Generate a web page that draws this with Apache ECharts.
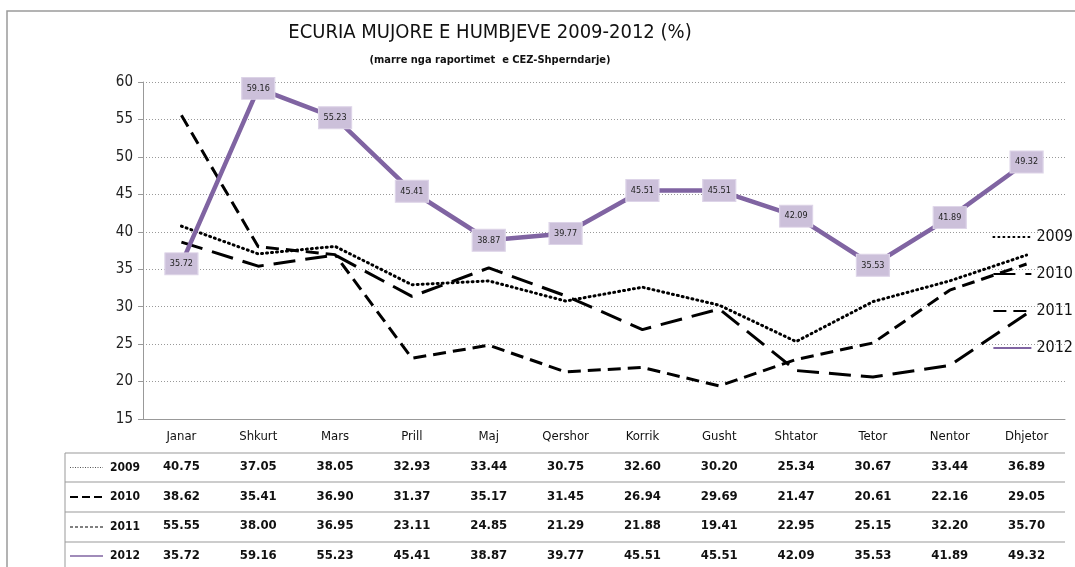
<!DOCTYPE html>
<html>
<head>
<meta charset="utf-8">
<script src="https://cdn.jsdelivr.net/npm/echarts@6/dist/echarts.min.js"></script>
<style>
  html, body { margin: 0; padding: 0; background: #fff; }
  #chart { width: 1075px; height: 567px; }
</style>
</head>
<body>
<div id="chart"></div>
<script>
// te dhenat
var months = ['Janar', 'Shkurt', 'Mars', 'Prill', 'Maj', 'Qershor', 'Korrik', 'Gusht', 'Shtator', 'Tetor', 'Nentor', 'Dhjetor'];
var years = ['2009', '2010', '2011', '2012'];
var v2009 = [40.75, 37.05, 38.05, 32.93, 33.44, 30.75, 32.60, 30.20, 25.34, 30.67, 33.44, 36.89];
var v2010 = [38.62, 35.41, 36.90, 31.37, 35.17, 31.45, 26.94, 29.69, 21.47, 20.61, 22.16, 29.05];
var v2011 = [55.55, 38.00, 36.95, 23.11, 24.85, 21.29, 21.88, 19.41, 22.95, 25.15, 32.20, 35.70];
var v2012 = [35.72, 59.16, 55.23, 45.41, 38.87, 39.77, 45.51, 45.51, 42.09, 35.53, 41.89, 49.32];
var yTicks = { min: 15, max: 60, step: 5 };

var rows = [v2009, v2010, v2011, v2012];
var FONT = '"Liberation Sans Narrow", "DejaVu Sans Condensed", "Arial Narrow", sans-serif';

var chart = echarts.init(document.getElementById('chart'));

// pozicioni i grafikut
var G = { left: 143, right: 10, top: 82, bottom: 148 };
var W = 1075, H = 567;
var rowTops = [453, 482, 512, 542];  // rreshtat e tabeles
var headL = 65;

// tabela poshte boshtit x (tekst ne label)
function tableLabel(value, idx) {
    var s = '{c|' + value + '}';
    for (var r = 0; r < rows.length; r++) {
        s += '\n{v|' + rows[r][idx].toFixed(2) + '}';
    }
    return s;
}

var graphics = [];
// korniza
graphics.push({
    type: 'rect', shape: { x: 7, y: 11, width: W + 20, height: H + 20 },
    style: { fill: 'none', stroke: '#9a9a9a', lineWidth: 1.5 }, silent: true
});
// vijat horizontale te tabeles
rowTops.forEach(function(y) {
    graphics.push({
        type: 'line', shape: { x1: headL, y1: y, x2: W - G.right, y2: y },
        style: { stroke: '#999', lineWidth: 1 }, silent: true
    });
});
graphics.push({
    type: 'line', shape: { x1: headL, y1: rowTops[0], x2: headL, y2: H },
    style: { stroke: '#999', lineWidth: 1 }, silent: true
});
// koka e rreshtave: mostra e vijes + viti
var sampleStyles = [
    { stroke: '#555', lineWidth: 1, lineDash: [1, 1.5] },
    { stroke: '#000', lineWidth: 2, lineDash: [8, 4] },
    { stroke: '#000', lineWidth: 1, lineDash: [3, 2] },
    { stroke: '#8064a2', lineWidth: 1.5 }
];
years.forEach(function(y, i) {
    var cy = (i < 3 ? (rowTops[i] + rowTops[i + 1]) / 2 : rowTops[i] + 14);
    graphics.push({
        type: 'line', shape: { x1: 70, y1: cy, x2: 103, y2: cy },
        style: sampleStyles[i], silent: true
    });
    graphics.push({
        type: 'text', x: 140, y: cy,
        style: { text: y, fontFamily: FONT, fontSize: 12, fontWeight: 'bold', fill: '#111', align: 'right', verticalAlign: 'middle' },
        silent: true
    });
});

var lineCommon = {
    type: 'line', symbol: 'none', smooth: false, z: 3
};

var option = {
    animation: false,
    backgroundColor: '#fff',
    title: {
        text: 'ECURIA MUJORE E HUMBJEVE 2009-2012 (%)',
        subtext: '(marre nga raportimet  e CEZ-Shperndarje)',
        left: 485, top: 18, textAlign: 'center', itemGap: 12,
        textStyle: { fontFamily: FONT, fontSize: 20, fontWeight: 'normal', color: '#111' },
        subtextStyle: { fontFamily: FONT, fontSize: 11, fontWeight: 'bold', color: '#111' }
    },
    legend: {
        orient: 'vertical', right: 2, top: 229, padding: 0,
        itemWidth: 38, itemHeight: 14, itemGap: 21,
        data: years,
        itemStyle: { opacity: 0 },
        textStyle: { fontFamily: FONT, fontSize: 16, color: '#111' }
    },
    grid: {
        left: G.left, right: G.right, top: G.top, bottom: G.bottom,
        containLabel: false, outerBoundsMode: 'none'
    },
    xAxis: {
        type: 'category', data: months, boundaryGap: true,
        axisLine: { lineStyle: { color: '#999', width: 1 } },
        axisTick: { length: G.bottom + 2, lineStyle: { color: '#999' } },
        axisLabel: {
            interval: 0, margin: 0, color: '#111', fontFamily: FONT,
            padding: [3, 0, 0, 0],
            formatter: tableLabel,
            rich: {
                c: { fontFamily: FONT, fontSize: 13, height: 30, lineHeight: 30, color: '#111' },
                v: { fontFamily: FONT, fontSize: 13, fontWeight: 'bold', height: 29.5, lineHeight: 29.5, color: '#111' }
            }
        }
    },
    yAxis: {
        type: 'value', min: yTicks.min, max: yTicks.max, interval: yTicks.step,
        axisLine: { show: true, lineStyle: { color: '#999' } },
        axisTick: { show: true, length: 5, lineStyle: { color: '#999' } },
        axisLabel: { fontFamily: FONT, fontSize: 15, color: '#222', margin: 10 },
        splitLine: { lineStyle: { color: '#999', type: [1, 2], width: 1 } }
    },
    graphic: graphics
};

// etiketat e 2012 si kuti
var labels2012 = v2012.map(function(v, i) {
    return { coord: [months[i], v], value: v };
});

option.series = [
    Object.assign({}, lineCommon, {
        name: '2009', data: v2009,
        lineStyle: { color: '#000', width: 3, type: [1, 4], cap: 'round' }
    }),
    Object.assign({}, lineCommon, {
        name: '2010', data: v2010,
        lineStyle: { color: '#000', width: 3, type: [22, 10] }
    }),
    Object.assign({}, lineCommon, {
        name: '2011', data: v2011,
        lineStyle: { color: '#000', width: 3, type: [13, 7] }
    }),
    Object.assign({}, lineCommon, {
        name: '2012', data: v2012, z: 4,
        itemStyle: { color: '#8064a2' },
        lineStyle: { color: '#8064a2', width: 4.5 },
        markPoint: {
            symbol: 'rect', symbolSize: [33, 22],
            itemStyle: { color: '#ccc0da', borderColor: '#ddd4e8', borderWidth: 1 },
            label: {
                show: true, position: 'inside',
                fontFamily: FONT, fontSize: 9, color: '#222',
                formatter: function(p) { return p.value.toFixed(2); }
            },
            data: labels2012
        }
    })
];

chart.setOption(option);
</script>
</body>
</html>
